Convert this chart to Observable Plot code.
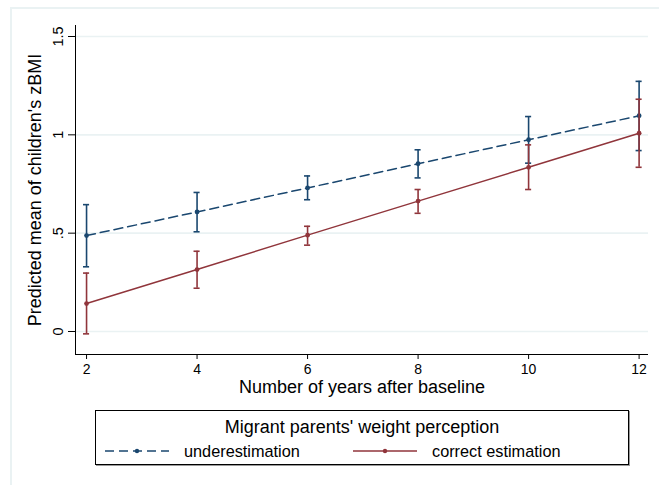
<!DOCTYPE html>
<html>
<head>
<meta charset="utf-8">
<script src="https://cdn.jsdelivr.net/npm/d3@7"></script>
<script src="https://cdn.jsdelivr.net/npm/@observablehq/plot@0.6"></script>
<style>
  html, body { margin: 0; padding: 0; background: #fff; }
  #wrap { position: relative; width: 659px; height: 485px; overflow: hidden; font-family: "Liberation Sans", Arial, sans-serif; }
  #frame { position: absolute; left: 10px; top: 7px; width: 700px; height: 520px; border-top: 2px solid #eaf2f3; border-left: 2px solid #eaf2f3; box-sizing: border-box; }
  #chart { position: absolute; left: 0; top: 0; }
  #legend { position: absolute; left: 95px; top: 410px; width: 534px; height: 55px; border: 1px solid #000; box-shadow: 1px 1px 0 #9a9a9a; box-sizing: border-box; background: #fff; }
  #legend .title { position: absolute; left: 0; width: 100%; top: 5px; text-align: center; font-size: 18px; line-height: 22px; color: #000; }
  #legend .item { position: absolute; top: 29px; height: 22px; display: flex; align-items: center; font-size: 16.3px; color: #000; }
  #legend svg { display: block; margin-right: 15px; }
</style>
</head>
<body>
<div id="wrap">
  <div id="frame"></div>
  <div id="chart"></div>
  <div id="legend"></div>
</div>
<script>
// ---- data ----
const years = [2, 4, 6, 8, 10, 12];
const underMean = [0.488, 0.608, 0.730, 0.853, 0.975, 1.097];
const underLow  = [0.329, 0.507, 0.670, 0.781, 0.856, 0.920];
const underHigh = [0.645, 0.707, 0.791, 0.924, 1.093, 1.272];
const correctMean = [0.142, 0.315, 0.490, 0.663, 0.835, 1.008];
const correctLow  = [-0.012, 0.220, 0.439, 0.601, 0.722, 0.835];
const correctHigh = [0.297, 0.408, 0.535, 0.722, 0.949, 1.181];
const seriesNames = ["underestimation", "correct estimation"];
const seriesColors = ["#1a476f", "#90353b"];
const xTicks = [2, 4, 6, 8, 10, 12];
const yTicks = [0, 0.5, 1, 1.5];
const yTickLabels = ["0", ".5", "1", "1.5"];
const xTitle = "Number of years after baseline";
const yTitle = "Predicted mean of children's zBMI";
const legendTitle = "Migrant parents' weight perception";

const build = (means, lows, highs, name) =>
  years.map((x, i) => ({ x, y: means[i], lo: lows[i], hi: highs[i], series: name }));
const under = build(underMean, underLow, underHigh, seriesNames[0]);
const correct = build(correctMean, correctLow, correctHigh, seriesNames[1]);

const xDomain = [1.8, 12.17];
const yDomain = [-0.117, 1.556];
const capHalf = 0.055;

function seriesMarks(data, color, dash) {
  return [
    Plot.ruleX(data, { x: "x", y1: "lo", y2: "hi", stroke: color, strokeWidth: 1.6 }),
    Plot.ruleY(data, { y: "lo", x1: d => d.x - capHalf, x2: d => d.x + capHalf, stroke: color, strokeWidth: 1.6 }),
    Plot.ruleY(data, { y: "hi", x1: d => d.x - capHalf, x2: d => d.x + capHalf, stroke: color, strokeWidth: 1.6 }),
    Plot.line(data, { x: "x", y: "y", stroke: color, strokeWidth: 1.5, strokeDasharray: dash }),
    Plot.dot(data, { x: "x", y: "y", r: 2.4, fill: color, stroke: "none" })
  ];
}

const chart = Plot.plot({
  width: 659,
  height: 400,
  marginLeft: 75,
  marginRight: 11,
  marginTop: 25,
  marginBottom: 46,
  style: { fontFamily: "'Liberation Sans', Arial, sans-serif", fontSize: "15px", background: "transparent", color: "#000" },
  x: { domain: xDomain },
  y: { domain: yDomain },
  marks: [
    Plot.gridY(yTicks, { stroke: "#eaf2f3", strokeOpacity: 1, strokeWidth: 1.6 }),
    Plot.ruleX([xDomain[0]], { stroke: "#000", strokeWidth: 1 }),
    Plot.ruleY([yDomain[0]], { stroke: "#000", strokeWidth: 1 }),
    Plot.axisX(xTicks, { tickSize: 5, tickFormat: () => "", label: null, stroke: "#000" }),
    Plot.text(xTicks, { x: d => d, text: d => String(d), frameAnchor: "bottom", dy: 19.5, fontSize: 14, fill: "#000" }),
    Plot.axisY(yTicks, { tickSize: 7, tickFormat: () => "", label: null, stroke: "#000" }),
    Plot.text(yTicks, { y: d => d, text: (d, i) => yTickLabels[i], frameAnchor: "left", textAnchor: "middle", dx: -17, rotate: -90, fontSize: 14.5, fill: "#000" }),
    Plot.text([xTitle], { text: d => d, frameAnchor: "bottom", textAnchor: "middle", dy: 38, fontSize: 18, fill: "#000" }),
    Plot.text([yTitle], { text: d => d, frameAnchor: "left", textAnchor: "middle", dx: -40, rotate: -90, fontSize: 18, fill: "#000" }),
    ...seriesMarks(under, seriesColors[0], "9,5"),
    ...seriesMarks(correct, seriesColors[1], null)
  ]
});
document.getElementById("chart").appendChild(chart);

// ---- legend ----
const legend = document.getElementById("legend");
const t = document.createElement("div");
t.className = "title";
t.textContent = legendTitle;
legend.appendChild(t);
const itemLeft = [9, 257];
seriesNames.forEach((name, i) => {
  const item = document.createElement("div");
  item.className = "item";
  item.style.left = itemLeft[i] + "px";
  const ns = "http://www.w3.org/2000/svg";
  const svg = document.createElementNS(ns, "svg");
  svg.setAttribute("width", 64);
  svg.setAttribute("height", 10);
  const ln = document.createElementNS(ns, "line");
  ln.setAttribute("x1", 0); ln.setAttribute("x2", 64);
  ln.setAttribute("y1", 5); ln.setAttribute("y2", 5);
  ln.setAttribute("stroke", seriesColors[i]);
  ln.setAttribute("stroke-width", 1.5);
  if (i === 0) ln.setAttribute("stroke-dasharray", "9,5");
  svg.appendChild(ln);
  const c = document.createElementNS(ns, "circle");
  c.setAttribute("cx", 32); c.setAttribute("cy", 5); c.setAttribute("r", 2.2);
  c.setAttribute("fill", seriesColors[i]);
  svg.appendChild(c);
  item.appendChild(svg);
  const span = document.createElement("span");
  span.textContent = name;
  item.appendChild(span);
  legend.appendChild(item);
});
</script>
</body>
</html>
